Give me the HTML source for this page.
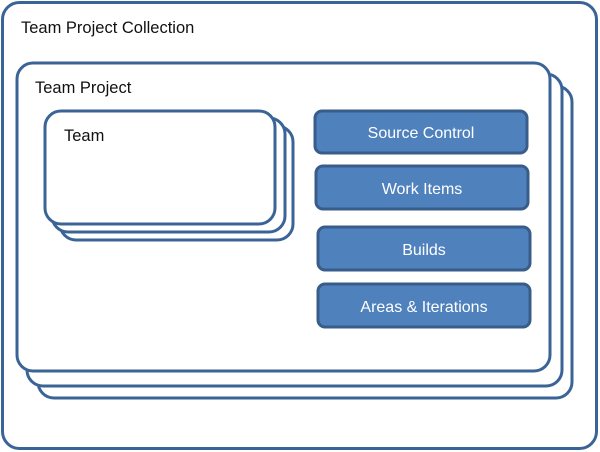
<!DOCTYPE html>
<html><head><meta charset="utf-8"><style>
html,body{margin:0;padding:0;background:#fff;}
svg{display:block;}
text{font-family:"Liberation Sans",sans-serif;}
</style></head><body>
<svg width="600" height="452" viewBox="0 0 600 452" xmlns="http://www.w3.org/2000/svg">
<g fill="#fff" stroke="#3b6496" stroke-width="3">
<rect x="2.5" y="2.5" width="594" height="446" rx="17"/>
<rect x="38" y="86" width="534" height="312" rx="16"/>
<rect x="27" y="74" width="535" height="312" rx="16"/>
<rect x="17" y="63" width="533" height="308" rx="16"/>
<rect x="60" y="126" width="233" height="114" rx="16"/>
<rect x="52" y="118" width="233" height="114" rx="16"/>
<rect x="45" y="111" width="230" height="113" rx="16"/>
</g>
<g fill="#4f81bd" stroke="#385d8a" stroke-width="3">
<rect x="315" y="111" width="212" height="42" rx="7"/>
<rect x="316" y="166" width="212" height="43" rx="7"/>
<rect x="318" y="227" width="212" height="43" rx="7"/>
<rect x="318" y="284" width="212" height="43" rx="7"/>
</g>
<g font-size="16.5" fill="#111">
<text x="21" y="33">Team Project Collection</text>
<text x="35" y="93">Team Project</text>
<text x="64" y="141">Team</text>
</g>
<g font-size="16" fill="#fff" text-anchor="middle">
<text x="421" y="138">Source Control</text>
<text x="422" y="194">Work Items</text>
<text x="424" y="255">Builds</text>
<text x="424" y="312">Areas &amp; Iterations</text>
</g>
</svg>
</body></html>
